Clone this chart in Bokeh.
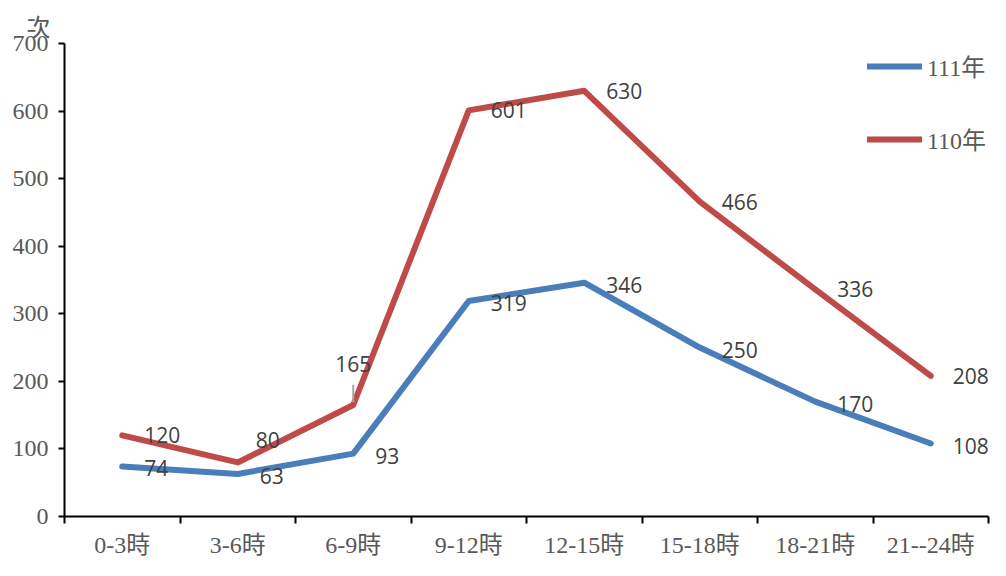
from bokeh.plotting import figure
from bokeh.models import Range1d, FixedTicker, Legend, LegendItem
from bokeh.core.properties import value
from bokeh.embed import file_html
from bokeh.resources import INLINE

# ---- data ----
categories = ["0-3時", "3-6時", "6-9時", "9-12時", "12-15時", "15-18時", "18-21時", "21--24時"]
y111 = [74, 63, 93, 319, 346, 250, 170, 108]
y110 = [120, 80, 165, 601, 630, 466, 336, 208]
y_ticks = [0, 100, 200, 300, 400, 500, 600, 700]
unit_label = "次"
series_names = ["111年", "110年"]

BLUE = "#4A7EBB"
RED = "#BE4B48"
GRAY = "#595959"
LBL = "#404040"
SERIF = "Liberation Serif, 'Noto Sans CJK TC'"
SANS = "Open Sans"

xs = [i + 0.5 for i in range(len(categories))]

p = figure(width=990, height=560, x_range=Range1d(0, len(categories)), y_range=Range1d(0, 700),
           output_backend="svg", toolbar_location=None,
           min_border_left=64, min_border_right=2, min_border_top=43, min_border_bottom=40)
p.outline_line_color = None
p.xgrid.visible = False
p.ygrid.visible = False
p.background_fill_color = "white"

# unit label as left-aligned title
p.title.text = unit_label
p.title.align = "left"
p.title.offset = -38
p.title.standoff = 6
p.title.text_font = SERIF
p.title.text_font_size = "24px"
p.title.text_font_style = "normal"
p.title.text_color = GRAY

# axes
xa = p.xaxis[0]
xa.ticker = FixedTicker(ticks=xs, minor_ticks=list(range(len(categories) + 1)))
xa.major_label_overrides = {x: c for x, c in zip(xs, categories)}
xa.major_tick_out = 0
xa.major_tick_in = 0
xa.minor_tick_out = 7
xa.minor_tick_in = 0
xa.minor_tick_line_color = "black"
xa.minor_tick_line_width = 2
xa.axis_line_color = "black"
xa.axis_line_width = 2
xa.major_label_standoff = 8
xa.major_label_text_font = SERIF
xa.major_label_text_font_size = "24px"
xa.major_label_text_color = GRAY

ya = p.yaxis[0]
ya.ticker = FixedTicker(ticks=y_ticks, minor_ticks=[])
ya.major_tick_out = 6
ya.major_tick_in = 0
ya.major_tick_line_color = "black"
ya.major_tick_line_width = 2
ya.minor_tick_out = 0
ya.minor_tick_in = 0
ya.axis_line_color = "black"
ya.axis_line_width = 2
ya.major_label_standoff = 10
ya.major_label_text_font = SERIF
ya.major_label_text_font_size = "24px"
ya.major_label_text_color = GRAY

# lines
r111 = p.line(xs, y111, line_color=BLUE, line_width=6, line_join="round", line_cap="round")
r110 = p.line(xs, y110, line_color=RED, line_width=6, line_join="round", line_cap="round")

# data labels
def labels(vals, yoff, skip=()):
    idx = [i for i in range(len(vals)) if i not in skip]
    p.text([xs[i] for i in idx], [vals[i] for i in idx], text=[str(vals[i]) for i in idx],
           x_offset=22, y_offset=yoff, text_align="left", text_baseline="middle",
           text_font=value(SANS), text_font_size="21px", text_color=LBL)

labels(y111, 2)
labels(y110, 0, skip=(1, 2))
# specially placed labels of the 110 series
p.text([xs[1]], [y110[1]], text=[str(y110[1])], x_offset=18, y_offset=-22,
       text_align="left", text_baseline="middle",
       text_font=value(SANS), text_font_size="21px", text_color=LBL)
p.text([xs[2]], [y110[2]], text=[str(y110[2])], x_offset=0, y_offset=-41,
       text_align="center", text_baseline="middle",
       text_font=value(SANS), text_font_size="21px", text_color=LBL)
p.segment(x0=[xs[2]], y0=[y110[2] + 4], x1=[xs[2]], y1=[y110[2] + 30],
          line_color="#A6A6A6", line_width=2)

# legend
legend = Legend(items=[LegendItem(label=series_names[0], renderers=[r111]),
                       LegendItem(label=series_names[1], renderers=[r110])],
                location=(803, 360), orientation="vertical",
                glyph_width=55, glyph_height=20, label_height=20, spacing=38,
                label_standoff=5, padding=0, margin=0,
                border_line_color=None, background_fill_alpha=0,
                label_text_font=SERIF, label_text_font_size="24px", label_text_color=GRAY)
p.add_layout(legend, "center")

open("out.html", "w").write(file_html(p, INLINE))
